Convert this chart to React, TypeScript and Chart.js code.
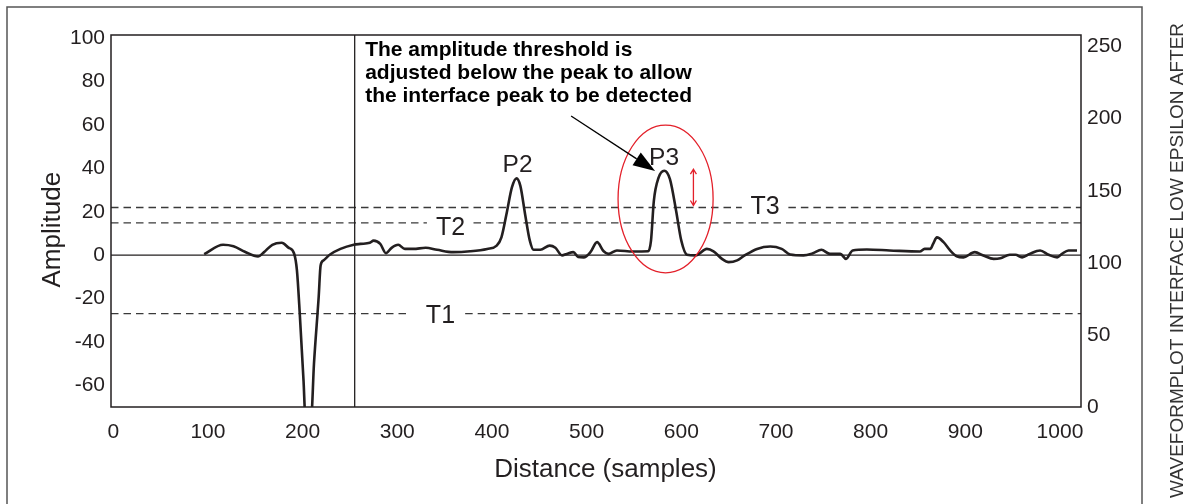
import React, { useEffect, useRef } from "react";
import { Chart, registerables } from "chart.js";

Chart.register(...registerables);

// ---- Data ----
const DIST = [
  96, 116, 127, 139, 153, 159, 168, 178, 185, 191, 194, 197, 201, 203, 209, 212, 217, 219, 222, 229,
  240, 254, 261, 271, 275, 282, 288, 294, 301, 308, 317, 330, 342, 359, 377, 395, 405, 410, 416, 421,
  426, 430, 435, 440, 444, 451, 461, 467, 474, 479, 486, 491, 497, 504, 511, 518, 523, 532, 549, 565,
  568, 571, 576, 582, 588, 594.5, 600, 606, 615, 627, 634, 643, 650, 659, 667, 680, 694, 706, 715, 729,
  739, 748, 757, 768, 774, 781, 796, 820, 852, 857, 863, 866, 870, 877, 884, 891, 898, 910, 919, 930,
  937, 947, 953, 960, 968, 979, 988, 997, 1002, 1009, 1018,
];
const AMPLITUDE = [
  0.5, 4.8, 4.1, 1.6, -0.6, 1.3, 4.8, 5.7, 3.5, 0.8, -7, -27, -58, -75, -75, -50, -19, -4.7, -2.4, 0.3,
  2.9, 4.8, 5.2, 5.7, 6.7, 5.2, 0.9, 3.4, 4.8, 2.9, 2.9, 3.4, 2.5, 1.4, 1.8, 2.9, 4.4, 8.2, 20.4, 31.1,
  35.4, 31.9, 18.9, 6.7, 2.5, 2.5, 4.4, 3.4, -0.1, 0.6, 1.4, -0.8, -1, 1.4, 6.0, 1.8, 0.6, 2.2, 1.7, 1.8,
  6.7, 25, 35.7, 38.9, 35, 20.5, 6.7, 0.2, -0.1, 2.9, 1.8, -1.7, -3.2, -2.4, -0.1, 2.9, 4.0, 2.9, 0.3, -0.1,
  0.9, 2.5, 0.6, 0.6, -1.7, 2.2, 2.6, 2.2, 1.7, 2.9, 2.9, 5.2, 8.2, 6.0, 2.2, -0.5, -1, 1.4, -0.1, -1.7,
  -1.4, 0.2, 0.2, -1, 0.6, 2.2, 0.2, -1, 0.6, 2.2, 2.2,
];

const X_MIN = -2.4;
const X_MAX = 1022.2;
const Y_MIN = -69.9;
const Y_MAX = 101.4;
const Y2_MIN = 0;
const Y2_MAX = 258;

const X_TICKS = [0, 100, 200, 300, 400, 500, 600, 700, 800, 900, 1000];
const Y_TICKS = [-60, -40, -20, 0, 20, 40, 60, 80, 100];
const Y2_TICKS = [0, 50, 100, 150, 200, 250];

const THRESHOLD_NAMES = ["T1", "T2", "T3"];
const THRESHOLD_LEVELS = [-26.9, 14.9, 22];
const THRESHOLD_GAP_START = [311.8, 331.3, 663.9];
const THRESHOLD_GAP_END = [371.7, 380.5, 713.1];
const THRESHOLD_LABEL_X = [345.6, 356.4, 688.4];
const THRESHOLD_LABEL_Y = [-31, 9.2, 19.2];

const PEAK_NAMES = ["P2", "P3"];
const PEAK_LABEL_X = [427, 581.8];
const PEAK_LABEL_Y = [38.1, 41.5];

const MARKER_X = 255;

const NOTE_LINES = [
  "The amplitude threshold is",
  "adjusted below the peak to allow",
  "the interface peak to be detected",
];
const NOTE_X = 266.1;
const NOTE_Y = 91.7;

const ARROW_FROM = [483.6, 64.1];
const ARROW_TO = [572.3, 38.8];
const RED_ARROW_X = 612.8;
const RED_ARROW_Y = [39.6, 22.9];
const ELLIPSE_CENTER = [583.4, 25.9];
const ELLIPSE_RADII = [50.2, 34];

const X_TITLE = "Distance (samples)";
const Y_TITLE = "Amplitude";
const SIDE_TITLE = "WAVEFORMPLOT INTERFACE LOW EPSILON AFTER";

const FONT = "'Liberation Sans', Arial, Helvetica, sans-serif";
const INK = "#231f20";
const RED = "#e3202a";

export default function App() {
  const ref = useRef<HTMLCanvasElement | null>(null);

  useEffect(() => {
    document.body.style.margin = "0";
    const canvas = ref.current;
    if (!canvas) return;

    const wave = DIST.map((x, i) => ({ x, y: AMPLITUDE[i] }));
    const thresholdSets = THRESHOLD_LEVELS.map((lv, i) => ({
      label: THRESHOLD_NAMES[i],
      data: [
        { x: X_MIN, y: lv },
        { x: THRESHOLD_GAP_START[i], y: lv },
        { x: (THRESHOLD_GAP_START[i] + THRESHOLD_GAP_END[i]) / 2, y: null },
        { x: THRESHOLD_GAP_END[i], y: lv },
        { x: X_MAX, y: lv },
      ],
      borderColor: "#3a3a3a",
      borderWidth: 1.4,
      borderDash: [7.5, 5],
      pointRadius: 0,
      spanGaps: false,
      tension: 0,
      yAxisID: "y",
    }));

    const annot = {
      id: "annot",
      afterDatasetsDraw(chart: any) {
        const { ctx, chartArea: a } = chart;
        const xs = chart.scales.x;
        const ys = chart.scales.y;
        const px = (v: number) => xs.getPixelForValue(v);
        const py = (v: number) => ys.getPixelForValue(v);
        ctx.save();

        ctx.strokeStyle = RED;
        ctx.lineWidth = 1.3;
        ctx.beginPath();
        const cx = px(ELLIPSE_CENTER[0]);
        const cy = py(ELLIPSE_CENTER[1]);
        const rx = Math.abs(px(ELLIPSE_CENTER[0] + ELLIPSE_RADII[0]) - cx);
        const ry = Math.abs(py(ELLIPSE_CENTER[1] + ELLIPSE_RADII[1]) - cy);
        ctx.ellipse(cx, cy, rx, ry, 0, 0, Math.PI * 2);
        ctx.stroke();

        const rax = px(RED_ARROW_X);
        const ray1 = py(RED_ARROW_Y[0]);
        const ray2 = py(RED_ARROW_Y[1]);
        ctx.beginPath();
        ctx.moveTo(rax, ray1);
        ctx.lineTo(rax, ray2);
        ctx.moveTo(rax - 3, ray1 + 5);
        ctx.lineTo(rax, ray1);
        ctx.lineTo(rax + 3, ray1 + 5);
        ctx.moveTo(rax - 3, ray2 - 5);
        ctx.lineTo(rax, ray2);
        ctx.lineTo(rax + 3, ray2 - 5);
        ctx.stroke();

        const x1 = px(ARROW_FROM[0]);
        const y1 = py(ARROW_FROM[1]);
        const x2 = px(ARROW_TO[0]);
        const y2 = py(ARROW_TO[1]);
        const ang = Math.atan2(y2 - y1, x2 - x1);
        const hl = 22;
        const hw = 7.5;
        const bx = x2 - hl * Math.cos(ang);
        const by = y2 - hl * Math.sin(ang);
        ctx.strokeStyle = "#000";
        ctx.fillStyle = "#000";
        ctx.lineWidth = 1.3;
        ctx.beginPath();
        ctx.moveTo(x1, y1);
        ctx.lineTo(bx, by);
        ctx.stroke();
        ctx.beginPath();
        ctx.moveTo(x2, y2);
        ctx.lineTo(bx + hw * Math.sin(ang), by - hw * Math.cos(ang));
        ctx.lineTo(bx - hw * Math.sin(ang), by + hw * Math.cos(ang));
        ctx.closePath();
        ctx.fill();

        ctx.fillStyle = INK;
        ctx.textAlign = "center";
        ctx.textBaseline = "alphabetic";
        ctx.font = `25px ${FONT}`;
        THRESHOLD_NAMES.forEach((t, i) => {
          ctx.fillText(t, px(THRESHOLD_LABEL_X[i]), py(THRESHOLD_LABEL_Y[i]));
        });
        ctx.font = `24.5px ${FONT}`;
        PEAK_NAMES.forEach((t, i) => {
          ctx.fillText(t, px(PEAK_LABEL_X[i]), py(PEAK_LABEL_Y[i]));
        });

        ctx.fillStyle = "#000";
        ctx.textAlign = "left";
        ctx.font = `bold 21px ${FONT}`;
        NOTE_LINES.forEach((l, i) => {
          ctx.fillText(l, px(NOTE_X), py(NOTE_Y) + i * 22.8);
        });

        ctx.strokeStyle = INK;
        ctx.lineWidth = 1.5;
        ctx.strokeRect(a.left, a.top, a.right - a.left, a.bottom - a.top);
        ctx.restore();
      },
      afterDraw(chart: any) {
        const { ctx } = chart;
        ctx.save();
        ctx.strokeStyle = "#555";
        ctx.lineWidth = 1.5;
        ctx.beginPath();
        ctx.moveTo(7, 504);
        ctx.lineTo(7, 7);
        ctx.lineTo(1142, 7);
        ctx.lineTo(1142, 504);
        ctx.stroke();

        ctx.fillStyle = INK;
        ctx.textBaseline = "alphabetic";
        ctx.textAlign = "center";
        ctx.font = `26px ${FONT}`;
        ctx.fillText(X_TITLE, 605.5, 476.7);

        ctx.save();
        ctx.translate(60, 229.7);
        ctx.rotate(-Math.PI / 2);
        ctx.fillText(Y_TITLE, 0, 0);
        ctx.restore();

        ctx.save();
        ctx.fillStyle = "#333";
        ctx.font = `19px ${FONT}`;
        ctx.translate(1183, 260.5);
        ctx.rotate(-Math.PI / 2);
        ctx.fillText(SIDE_TITLE, 0, 0);
        ctx.restore();
        ctx.restore();
      },
    };

    const tickFont = { family: FONT, size: 21 };
    const plain = (v: any) => String(v);

    const chart = new Chart(canvas, {
      type: "line",
      data: {
        datasets: [
          {
            label: "Waveform",
            data: wave,
            borderColor: INK,
            borderWidth: 2.6,
            pointRadius: 0,
            cubicInterpolationMode: "monotone",
            yAxisID: "y",
          },
          {
            label: "Zero",
            data: [
              { x: X_MIN, y: 0 },
              { x: X_MAX, y: 0 },
            ],
            borderColor: INK,
            borderWidth: 1.3,
            pointRadius: 0,
            yAxisID: "y",
          },
          {
            label: "Marker",
            data: [
              { x: MARKER_X, y: Y_MIN },
              { x: MARKER_X, y: Y_MAX },
            ],
            borderColor: INK,
            borderWidth: 1.3,
            pointRadius: 0,
            yAxisID: "y",
          },
          ...thresholdSets,
        ] as any,
      },
      options: {
        animation: false,
        responsive: true,
        maintainAspectRatio: false,
        devicePixelRatio: 1,
        layout: { padding: { top: 35, left: 0, right: 0, bottom: 0 } },
        plugins: { legend: { display: false }, tooltip: { enabled: false } },
        scales: {
          x: {
            type: "linear",
            min: X_MIN,
            max: X_MAX,
            grid: { display: false, drawTicks: false },
            border: { display: false },
            afterBuildTicks: (s: any) => {
              s.ticks = X_TICKS.map((v) => ({ value: v }));
            },
            afterFit: (s: any) => {
              s.height = 97;
            },
            ticks: { font: tickFont, color: INK, padding: 13, maxRotation: 0, autoSkip: false, callback: plain },
          },
          y: {
            type: "linear",
            position: "left",
            min: Y_MIN,
            max: Y_MAX,
            grid: { display: false, drawTicks: false },
            border: { display: false },
            afterBuildTicks: (s: any) => {
              s.ticks = Y_TICKS.map((v) => ({ value: v }));
            },
            afterFit: (s: any) => {
              s.width = 111;
            },
            ticks: { font: tickFont, color: INK, padding: 6, autoSkip: false, callback: plain },
          },
          y2: {
            type: "linear",
            position: "right",
            min: Y2_MIN,
            max: Y2_MAX,
            grid: { display: false, drawTicks: false },
            border: { display: false },
            afterBuildTicks: (s: any) => {
              s.ticks = Y2_TICKS.map((v) => ({ value: v }));
            },
            afterFit: (s: any) => {
              s.width = 113;
            },
            ticks: { font: tickFont, color: INK, padding: 6, autoSkip: false, callback: plain },
          },
        },
      } as any,
      plugins: [annot],
    });

    return () => chart.destroy();
  }, []);

  return (
    <div style={{ position: "relative", width: "1194px", height: "504px" }}>
      <canvas ref={ref} />
    </div>
  );
}
